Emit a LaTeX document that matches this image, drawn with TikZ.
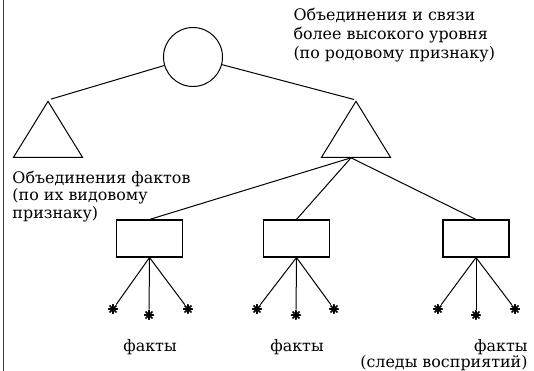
\documentclass[tikz,border=0pt]{standalone}
\usepackage{fontspec}
\setmainfont{DejaVu Serif}
\usetikzlibrary{shapes.geometric, positioning}
\tikzset{
    union/.style={circle, draw, minimum size=59pt, inner sep=0pt},
    kind/.style={isosceles triangle, shape border rotate=90, isosceles triangle stretches,
        draw, minimum width=69pt, minimum height=56pt, inner sep=0pt},
    cluster/.style={rectangle, draw, line width=1.1pt, minimum width=66pt, minimum height=37pt, inner sep=0pt},
    fact/.style={circle, inner sep=0pt, minimum size=10pt, path picture={
        \foreach \a in {0,45,90,135}
            \draw[line width=1.5pt] ([shift={(\a:5pt)}]path picture bounding box.center)
                -- ([shift={(\a+180:5pt)}]path picture bounding box.center);}},
    note/.style={align=left, inner sep=0pt, font=\fontsize{15.9}{19}\selectfont},
}
\begin{document}
\begin{tikzpicture}[x=1pt, y=-1pt, line width=1pt]
                \useasboundingbox (0,0) rectangle (534,371);
                \draw[line width=1.6pt, black!75] (3.5,0) -- (3.5,371);
                \node[union] (top) at (193,57) {};
                \node[kind, anchor=apex] (lt) at (48,100) {};
                \node[kind, anchor=apex] (rt) at (356,100) {};
                \draw[shorten >=3pt] (top) -- (lt.apex);
                \draw[shorten >=2pt] (top) -- (rt.apex);
                \node[cluster] (b1) at (149.5,238.5) {};
                \node[cluster] (b2) at (296.5,238.5) {};
                \node[cluster] (b3) at (476,238.5) {};
                \foreach \b in {b1,b2,b3}
                    \draw ([xshift=-5pt]rt.south) -- (\b.north);
                \node[fact] (s11) at (113,309) {};
                \node[fact] (s12) at (149,315) {};
                \node[fact] (s13) at (188,309) {};
                \node[fact] (s21) at (257,309) {};
                \node[fact] (s22) at (296,315) {};
                \node[fact] (s23) at (334,309) {};
                \node[fact] (s31) at (438,309) {};
                \node[fact] (s32) at (476,315) {};
                \node[fact] (s33) at (515,309) {};
                \foreach \i in {1,2,3}
                    \foreach \j in {1,2,3}
                        \draw (b\i.south) -- (s\i\j);
                \node[note, anchor=base west] (upper) at (293,59)
                    {Объединения и связи\\более высокого уровня\\(по родовому признаку)};
                \node[note, anchor=base west, font=\fontsize{15.9}{17.5}\selectfont] (lower) at (12,218)
                    {Объединения фактов\\(по их видовому\\признаку)};
                \node[note, anchor=base] (f1) at (150,351) {факты};
                \node[note, anchor=base] (f2) at (297,351) {факты};
                \node[note, anchor=base east] (f3) at (528,351) {факты};
                \node[note, anchor=base east] (trace) at (528,367) {(следы восприятий)};
            \end{tikzpicture}
\end{document}
